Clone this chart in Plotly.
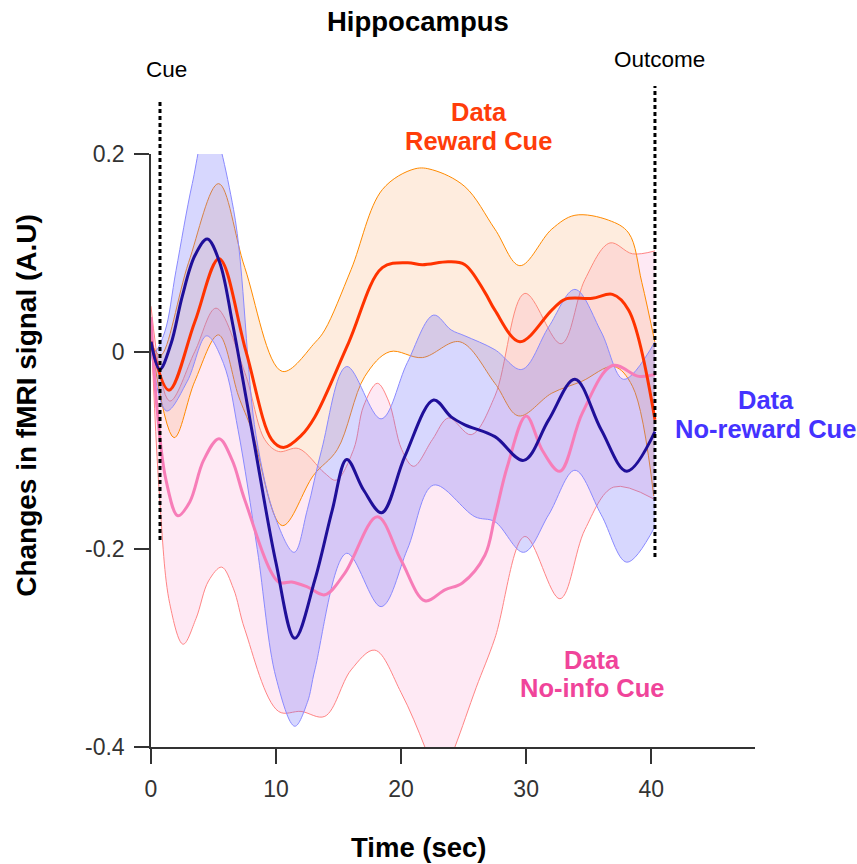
import plotly.graph_objects as go

# ---------------- data ----------------
# No-reward cue (navy mean, blue band)
nr_mean_t = [0, 0.7, 1.6, 2.5, 3.5, 4.5, 5.5, 6.5, 8.2, 10, 11.5, 13.1, 14.5, 15.65, 17, 18.45, 20.3, 22.6, 24, 25.1, 27.5, 29.8, 31.8, 33.9, 36, 38.05, 40.3]
nr_mean_y = [0.01, -0.018, 0.008, 0.056, 0.097, 0.114, 0.09, 0.03, -0.089, -0.214, -0.29, -0.231, -0.16, -0.109, -0.14, -0.163, -0.106, -0.049, -0.066, -0.074, -0.086, -0.11, -0.069, -0.028, -0.079, -0.121, -0.081]

nr_hi_t = [0, 0.3, 1.1, 2, 3.3, 4.6, 6.6, 8.4, 10, 11.45, 12.5, 13.65, 15.65, 18.4, 20.5, 22.6, 24, 25.1, 27.5, 29.65, 31.8, 33.9, 36, 37.8, 40.3]
nr_hi_y = [0.005, 0.0, 0.02, 0.082, 0.17, 0.235, 0.144, -0.085, -0.17, -0.203, -0.16, -0.099, -0.015, -0.068, -0.011, 0.037, 0.022, 0.016, 0.002, -0.018, 0.025, 0.063, 0.02, -0.028, 0.01]

nr_lo_t = [0, 1.25, 2.9, 4.45, 5.8, 6.96, 8.5, 10, 11.5, 12.5, 13.1, 15.65, 18.4, 20.5, 22.6, 25.9, 27.5, 29.8, 31.8, 33.9, 36, 38.05, 40.3]
nr_lo_y = [0.0, -0.06, -0.03, 0.016, -0.012, -0.079, -0.2, -0.33, -0.379, -0.355, -0.322, -0.204, -0.258, -0.2, -0.135, -0.167, -0.172, -0.203, -0.165, -0.12, -0.165, -0.213, -0.177]

# Reward cue (red mean, orange band)
r_mean_t = [0, 1.44, 3.5, 5.44, 7.6, 9.65, 10.6, 12, 13.1, 15.8, 18.5, 20.5, 21.7, 23.8, 25.1, 26.7, 27.5, 29.5, 32.05, 33.1, 35.3, 36.9, 38.2, 40.3]
r_mean_y = [0.01, -0.039, 0.03, 0.094, 0.0, -0.089, -0.097, -0.085, -0.066, 0.009, 0.085, 0.09, 0.088, 0.091, 0.088, 0.06, 0.042, 0.01, 0.042, 0.053, 0.054, 0.058, 0.042, -0.069]

r_hi_t = [0, 0.75, 3, 5.4, 7.5, 10.5, 13.1, 13.9, 16, 18.5, 21.1, 22.5, 25.1, 27.5, 29.5, 32.05, 33.9, 36.6, 38.2, 39.25, 40.3]
r_hi_y = [0.01, -0.004, 0.09, 0.17, 0.085, -0.02, 0.009, 0.022, 0.083, 0.164, 0.185, 0.184, 0.167, 0.124, 0.087, 0.124, 0.138, 0.133, 0.12, 0.07, 0.009]

r_lo_t = [0, 1.85, 3.5, 5.4, 7.0, 8.05, 10.5, 13, 14.9, 17.1, 19.1, 21.7, 24.7, 27.5, 29.4, 32.05, 34.45, 37, 38.5, 40.2]
r_lo_y = [0.01, -0.087, -0.03, 0.017, -0.045, -0.079, -0.176, -0.125, -0.099, -0.025, 0.0, -0.006, 0.01, -0.032, -0.065, -0.042, -0.03, -0.015, -0.035, -0.146]

# No-info cue (pink mean, pink band)
ni_mean_t = [0, 0.5, 1.2, 2.15, 3.1, 4.2, 5.44, 6.5, 7.5, 10.2, 11.25, 12.5, 13.9, 15.5, 18.1, 20, 21.9, 23.5, 24.9, 26.7, 27.5, 28.5, 30, 31.3, 32.7, 34.5, 36.9, 39, 40.3]
ni_mean_y = [0.035, -0.06, -0.13, -0.166, -0.152, -0.11, -0.088, -0.11, -0.15, -0.233, -0.233, -0.238, -0.246, -0.224, -0.167, -0.211, -0.252, -0.241, -0.234, -0.206, -0.167, -0.116, -0.065, -0.1, -0.121, -0.062, -0.014, -0.025, -0.023]

ni_hi_t = [0, 1.5, 3.5, 5.2, 7.5, 9.1, 10.2, 11.8, 13.9, 14.8, 16.2, 17, 18.1, 19, 20.05, 21, 22.5, 23.8, 25.6, 27.5, 29.9, 32.8, 34.7, 36.7, 38.5, 40.3]
ni_hi_y = [0.046, -0.05, 0.0, 0.044, -0.021, -0.089, -0.101, -0.098, -0.123, -0.13, -0.099, -0.055, -0.032, -0.05, -0.099, -0.116, -0.089, -0.067, -0.084, -0.045, 0.059, 0.008, 0.073, 0.11, 0.099, 0.102]

ni_lo_t = [0, 0.7, 1.5, 2.57, 3.6, 4.6, 5.65, 6.6, 7.5, 10.2, 12, 13.9, 16, 17.9, 20, 21.9, 23, 24.3, 26, 27.5, 29.9, 32.7, 34.7, 37, 40.2]
ni_lo_y = [0.025, -0.15, -0.255, -0.296, -0.27, -0.232, -0.218, -0.24, -0.281, -0.364, -0.364, -0.369, -0.322, -0.302, -0.345, -0.4, -0.44, -0.4, -0.34, -0.29, -0.187, -0.25, -0.18, -0.137, -0.149]

x_ticks = [0, 10, 20, 30, 40]
y_ticks = [0.2, 0, -0.2, -0.4]
y_tick_text = ["0.2", "0", "-0.2", "-0.4"]

cue_t = 0.72
outcome_t = 40.3

# ---------------- styles ----------------
FONT = "Liberation Sans, Arial, Helvetica, sans-serif"
BLUE_EDGE = "#8a8aff"
BLUE_FILL = "rgba(110,110,250,0.28)"
ORANGE_EDGE = "#ff8a00"
ORANGE_FILL = "rgba(250,160,90,0.20)"
PINK_EDGE = "#ff8585"
PINK_FILL = "rgba(245,110,180,0.15)"
NAVY = "#1f0f99"
RED = "#ff3300"
PINK = "#f77db8"

fig = go.Figure()


def band(t_lo, lo, t_hi, hi, edge, fill):
    fig.add_trace(go.Scatter(x=t_lo, y=lo, mode="lines",
                             line=dict(color=edge, width=1, shape="spline", smoothing=1.0),
                             hoverinfo="skip", showlegend=False))
    fig.add_trace(go.Scatter(x=t_hi, y=hi, mode="lines", fill="tonexty", fillcolor=fill,
                             line=dict(color=edge, width=1, shape="spline", smoothing=1.0),
                             hoverinfo="skip", showlegend=False))


band(ni_lo_t, ni_lo_y, ni_hi_t, ni_hi_y, PINK_EDGE, PINK_FILL)
band(r_lo_t, r_lo_y, r_hi_t, r_hi_y, ORANGE_EDGE, ORANGE_FILL)
band(nr_lo_t, nr_lo_y, nr_hi_t, nr_hi_y, BLUE_EDGE, BLUE_FILL)

for t, y, c in [(ni_mean_t, ni_mean_y, PINK), (r_mean_t, r_mean_y, RED), (nr_mean_t, nr_mean_y, NAVY)]:
    fig.add_trace(go.Scatter(x=t, y=y, mode="lines",
                             line=dict(color=c, width=3, shape="spline", smoothing=1.0),
                             showlegend=False))

# event markers (dotted vertical lines)
fig.add_shape(type="line", xref="x", yref="paper", x0=cue_t, x1=cue_t, y0=0.349, y1=1.091,
              line=dict(color="black", width=3, dash="4px,3px"))
fig.add_shape(type="line", xref="x", yref="paper", x0=outcome_t, x1=outcome_t, y0=0.3204, y1=1.1147,
              line=dict(color="black", width=3, dash="4px,3px"))


def label(text, x, y, size, color, xref="paper", angle=0):
    return dict(text=text, xref=xref, yref="paper", x=x, y=y, xanchor="center", yanchor="middle",
                textangle=angle, font=dict(size=size, color=color, family=FONT), showarrow=False)


ann = [
    label("<b>Hippocampus</b>", 0.442, 1.2226, 27.5, "black"),
    label("<b>Time (sec)</b>", 0.443, -0.1703, 27.5, "black"),
    label("<b>Changes in fMRI signal (A.U)</b>", -0.2053, 0.577, 28, "black", angle=-90),
    label("Cue", 1.2, 1.1417, 22.5, "black", xref="x"),
    label("Outcome", 40.64, 1.16, 22.5, "black", xref="x"),
]
for txt, x, y, col in [("Data", 0.5429, 1.0708, "#ff3d0a"), ("Reward Cue", 0.5429, 1.0219, "#ff3d0a"),
                       ("Data", 1.018, 0.585, "#4433ff"), ("No-reward Cue", 1.018, 0.536, "#4433ff"),
                       ("Data", 0.730, 0.1467, "#f0449a"), ("No-info Cue", 0.730, 0.0995, "#f0449a")]:
    ann.append(label("<b>%s</b>" % txt, x, y, 25.5, col))

fig.update_layout(
    width=857, height=864,
    margin=dict(l=151, r=102, t=154, b=117),
    paper_bgcolor="white", plot_bgcolor="white",
    font=dict(family=FONT, color="#333333"),
    annotations=ann,
    xaxis=dict(range=[0, 48.3], tickvals=x_ticks, ticks="outside", ticklen=15, tickwidth=1.5,
               tickcolor="#333333", showline=True, linecolor="#333333", linewidth=1.5,
               showgrid=False, zeroline=False, tickfont=dict(size=23, color="#333333", family=FONT),
               ticklabelstandoff=6),
    yaxis=dict(range=[-0.4, 0.2], tickvals=y_ticks, ticktext=y_tick_text, ticks="outside", ticklen=15,
               tickwidth=1.5, tickcolor="#333333", showline=True, linecolor="#333333", linewidth=1.5,
               showgrid=False, zeroline=False, tickfont=dict(size=23, color="#333333", family=FONT),
               ticklabelstandoff=5),
)

fig.write_html("out.html")
